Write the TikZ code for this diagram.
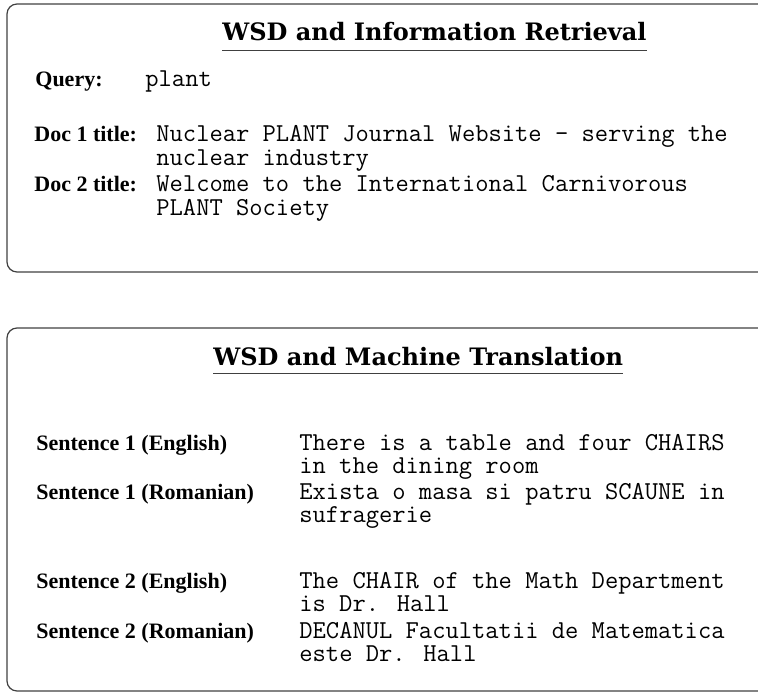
\documentclass[tikz,border=0pt]{standalone}
\usepackage{fontspec}
\setmainfont{Liberation Serif}
\newfontfamily\headfont{DejaVu Serif}

\tikzset{
  panel/.style={draw=black!75, line width=0.6pt, rounded corners=5pt},
  heading/.style={font=\headfont\bfseries\fontsize{12}{14}\selectfont, anchor=base west, inner sep=0pt},
  field/.style={font=\bfseries\fontsize{11}{12}\selectfont, anchor=base west, inner sep=0pt},
  entry/.style={font=\ttfamily\fontsize{12.9}{11.9}\selectfont, anchor=base west, inner sep=0pt, align=left},
  entrytwo/.style={entry, yshift=-11.9pt},
  rule/.style={draw=black!75, line width=0.6pt}
}

\begin{document}
\begin{tikzpicture}[x=0.5pt,y=-0.5pt]
\useasboundingbox (0,0) rectangle (758,694);
\clip (0,0) rectangle (758,694);

% -----------------------------
% WSD for information retrieval
% -----------------------------
\draw[panel] (7,4) rectangle (780,272);
\node[heading] (irtitle) at (222,41) {WSD and Information Retrieval};
\draw[rule] ([yshift=-4.6pt]irtitle.base west) -- ([yshift=-4.6pt]irtitle.base east);

\node[field] (query) at (35,87) {Query:};
\node[entry] (querytext) at (145,87) {plant};

\node[field] (doca) at (34,142) {Doc 1 title:};
\node[entrytwo] (docatext) at (156,142) {Nuclear PLANT Journal Website - serving the\\nuclear industry};

\node[field] (docb) at (34,192) {Doc 2 title:};
\node[entrytwo] (docbtext) at (156,192) {Welcome to the International Carnivorous\\PLANT Society};

% -----------------------------
% WSD for machine translation
% -----------------------------
\draw[panel] (7,328) rectangle (780,691);
\node[heading] (mttitle) at (213,365) {WSD and Machine Translation};
\draw[rule] ([yshift=-4.2pt]mttitle.base west) -- ([yshift=-4.2pt]mttitle.base east);

\node[field] (sena) at (36,450) {Sentence 1 (English)};
\node[entrytwo] (senatext) at (299,450) {There is a table and four CHAIRS\\in the dining room};

\node[field] (senb) at (36,499) {Sentence 1 (Romanian)};
\node[entrytwo] (senbtext) at (299,499) {Exista o masa si patru SCAUNE in\\sufragerie};

\node[field] (senc) at (36,588) {Sentence 2 (English)};
\node[entrytwo] (senctext) at (299,588) {The CHAIR of the Math Department\\is Dr. Hall};

\node[field] (send) at (36,638) {Sentence 2 (Romanian)};
\node[entrytwo] (sendtext) at (299,638) {DECANUL Facultatii de Matematica\\este Dr. Hall};

\end{tikzpicture}
\end{document}
